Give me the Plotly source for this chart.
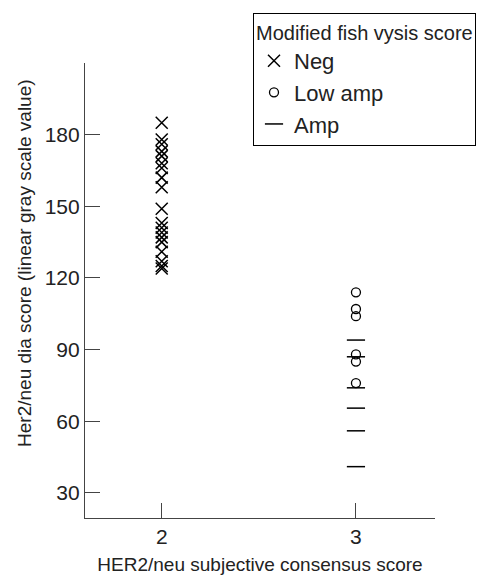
import plotly.graph_objects as go

# Data
neg_x = [2] * 19
neg_y = [185, 178, 176, 173, 171, 168, 166, 162, 158, 149, 143, 141, 139, 137, 135, 131, 127, 125, 124]
low_x = [3] * 6
low_y = [114, 107, 104, 88, 85, 76]
amp_x = [3] * 6
amp_y = [94, 87, 74, 65.5, 56, 41]

x_ticks = [2, 3]
y_ticks = [30, 60, 90, 120, 150, 180]

FONT = "Liberation Sans"

fig = go.Figure()
fig.add_trace(go.Scatter(x=neg_x, y=neg_y, mode="markers", name="Neg",
                         marker=dict(symbol="x-thin-open", size=12, color="black",
                                     line=dict(width=1.5, color="black"))))
fig.add_trace(go.Scatter(x=low_x, y=low_y, mode="markers", name="Low amp",
                         marker=dict(symbol="circle-open", size=9, color="black",
                                     line=dict(width=1.3, color="black"))))
fig.add_trace(go.Scatter(x=amp_x, y=amp_y, mode="markers", name="Amp",
                         marker=dict(symbol="line-ew-open", size=13, color="black",
                                     line=dict(width=1.5, color="black"))))

# The page body has an 8px margin, so the figure is sized to fill the visible area
fig.update_layout(
    template="none",
    width=478, height=567,
    margin=dict(l=77, r=51, t=55, b=57, autoexpand=False),
    paper_bgcolor="white", plot_bgcolor="white",
    font=dict(family=FONT, color="#222", size=20),
    showlegend=True,
    legend=dict(
        title=dict(text="Modified fish vysis score", font=dict(size=20)),
        font=dict(size=22),
        x=0.48, xanchor="left", y=1.11, yanchor="top",
        bordercolor="black", borderwidth=1, bgcolor="white",
        itemwidth=30, tracegroupgap=0,
    ),
    xaxis=dict(
        range=[1.605, 3.407], tickvals=x_ticks, ticktext=[str(v) for v in x_ticks],
        ticks="inside", ticklen=15, tickwidth=1, tickcolor="#444",
        showline=True, linecolor="#444", linewidth=1.2,
        showgrid=False, zeroline=False, automargin=False,
        tickfont=dict(size=21),
        title=dict(text="HER2/neu subjective consensus score", font=dict(size=19), standoff=14),
    ),
    yaxis=dict(
        range=[19.5, 210], tickvals=y_ticks,
        ticks="inside", ticklen=15, tickwidth=1, tickcolor="#444",
        showline=True, linecolor="#444", linewidth=1.2,
        showgrid=False, zeroline=False, automargin=False,
        tickfont=dict(size=21),
    ),
    annotations=[dict(
        text="Her2/neu dia score (linear gray scale value)",
        xref="paper", yref="paper", x=-0.175, y=0.56,
        textangle=-90, showarrow=False, font=dict(size=19),
        xanchor="center", yanchor="middle",
    )],
)

fig.write_html("out.html")
